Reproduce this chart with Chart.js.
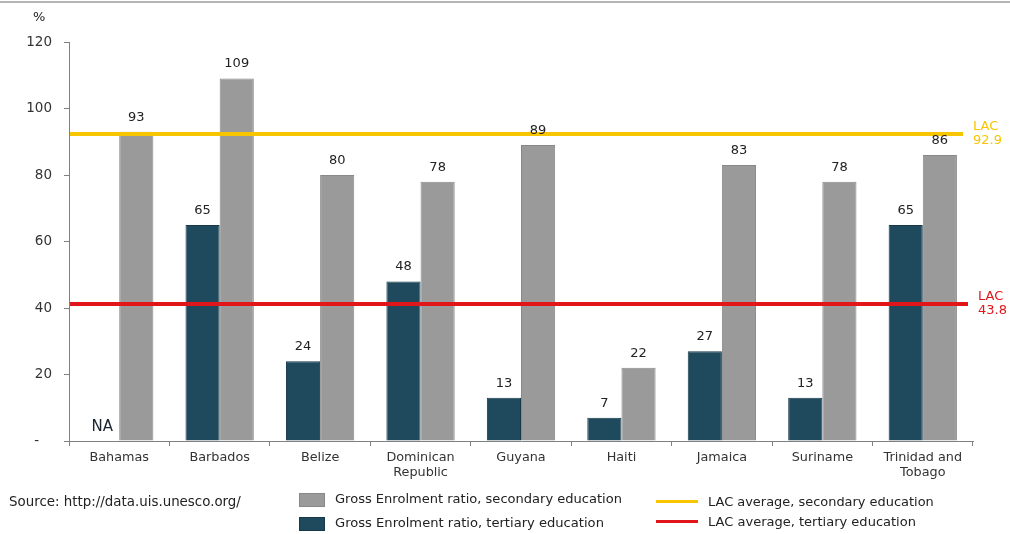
<!DOCTYPE html>
<html><head><meta charset="utf-8">
<script src="https://cdn.jsdelivr.net/npm/chart.js@4.4.1/dist/chart.umd.min.js"></script>
<style>
body{margin:0;background:#fff;font-family:"DejaVu Sans",Verdana,sans-serif;}
#wrap{position:relative;width:1010px;height:534px;overflow:hidden;background:#fff}
#c{position:absolute;left:0;top:0}
#topline{position:absolute;left:0;top:1px;width:1010px;height:2px;background:#b4b4b4}
.t{position:absolute;font-size:12px;color:#222;white-space:nowrap;line-height:14px}
.sw{position:absolute;width:26px;height:14px;box-sizing:border-box;border:1px solid #777}
.ln{position:absolute;width:42px;height:3px}
</style></head><body>
<div id="wrap">
<canvas id="c" width="1010" height="534"></canvas>
<div id="topline"></div>
<div class="t" style="left:33px;top:10px;font-size:13px">%</div>
<div class="t" id="source" style="left:9px;top:495px">Source: http://data.uis.unesco.org/</div>
</div>
<script>
// ---- data ----
const categories = ['Bahamas','Barbados','Belize',['Dominican','Republic'],'Guyana','Haiti','Jamaica','Suriname',['Trinidad and','Tobago']];
const secondaryValues = [93,109,80,78,89,22,83,78,86];
const tertiaryValues = [null,65,24,48,13,7,27,13,65];
const seriesNames = ['Gross Enrolment ratio, secondary education','Gross Enrolment ratio, tertiary education'];
const lacNames = ['LAC average, secondary education','LAC average, tertiary education'];
const lacLabels = ['92.9','43.8'];
const lacLevels = [92.3, 41.2]; // levels at which the lines are drawn in the picture
const yTicks = [0,20,40,60,80,100,120];

const F = '"DejaVu Sans", Verdana, sans-serif';
Chart.defaults.font.family = F;
const GRAY = '#9a9a9a', DARK = '#1f4a5e';
const LACCOL = ['#f7c600','#e0161b'];
const lacEnd = [10,5];

const overlay = {
  id:'overlay',
  afterDatasetsDraw(chart){
    const ctx = chart.ctx, ys = chart.scales.y, a = chart.chartArea;
    ctx.save();
    lacLevels.forEach((v,i)=>{
      const y = ys.getPixelForValue(v);
      const xe = a.right - lacEnd[i];
      ctx.strokeStyle = LACCOL[i]; ctx.lineWidth = 4;
      ctx.beginPath(); ctx.moveTo(a.left+1,y); ctx.lineTo(xe,y); ctx.stroke();
      ctx.fillStyle = LACCOL[i]; ctx.font = '13px '+F; ctx.textAlign='left'; ctx.textBaseline='middle';
      ctx.fillText('LAC', xe+10, y-7);
      ctx.fillText(lacLabels[i], xe+10, y+7);
    });
    chart.data.datasets.forEach((ds,di)=>{
      chart.getDatasetMeta(di).data.forEach((bar,i)=>{
        const v = ds.data[i];
        ctx.textAlign='center';
        if(v==null){
          ctx.fillStyle='#1a2530'; ctx.font='15px '+F; ctx.textBaseline='middle';
          ctx.fillText('NA', bar.x, ys.getPixelForValue(0)-14);
        } else {
          ctx.fillStyle='#222'; ctx.font='13px '+F; ctx.textBaseline='bottom';
          ctx.fillText(String(v), bar.x, bar.y-8);
        }
      });
    });
    ctx.restore();
  }
};

new Chart(document.getElementById('c'),{
  type:'bar',
  data:{
    labels:categories,
    datasets:[
      {label:seriesNames[1],data:tertiaryValues,backgroundColor:DARK,borderColor:'#163848',borderWidth:1,categoryPercentage:0.68,barPercentage:1},
      {label:seriesNames[0],data:secondaryValues,backgroundColor:GRAY,borderColor:'#888',borderWidth:1,categoryPercentage:0.68,barPercentage:1}
    ]
  },
  options:{
    responsive:false,animation:false,
    layout:{padding:{top:42,right:37,bottom:0,left:0}},
    plugins:{legend:{display:false},tooltip:{enabled:false}},
    scales:{
      x:{offset:true,
        grid:{offset:true,drawOnChartArea:false,tickLength:5,color:'#808080'},
        border:{color:'#808080',width:1},
        ticks:{color:'#333',font:{size:12.8},padding:4,maxRotation:0,autoSkip:false},
        afterFit(s){s.height=93;}
      },
      y:{min:0,max:120,
        afterBuildTicks(s){s.ticks=yTicks.map(v=>({value:v}));},
        grid:{drawOnChartArea:false,tickLength:5,color:'#808080'},
        border:{color:'#808080',width:1},
        ticks:{color:'#333',font:{size:13.5},padding:12,callback:v=>v===0?'-   ':String(v)},
        afterFit(s){s.width=69;}
      }
    }
  },
  plugins:[overlay]
});

// fit a text element to the width it has in the picture
function fit(el, target){
  el.style.fontSize='12px';
  const w = el.getBoundingClientRect().width;
  el.style.fontSize = (12*target/w).toFixed(2)+'px';
}

// legend built from the arrays
const wrap=document.getElementById('wrap');
const swCol=[GRAY,DARK];
const seriesW=[287,269], lacW=[226,208];
const seriesY=[499,523], lacY=[502,522];
seriesNames.forEach((n,i)=>{
  const s=document.createElement('div');s.className='sw';
  s.style.left='299px';s.style.top=(493+i*24)+'px';s.style.background=swCol[i];
  s.style.borderColor=i?'#163848':'#888';wrap.appendChild(s);
  const t=document.createElement('div');t.className='t';t.textContent=n;
  t.style.left='335px';t.style.top=(seriesY[i]-7)+'px';wrap.appendChild(t);
  fit(t,seriesW[i]);
});
lacNames.forEach((n,i)=>{
  const l=document.createElement('div');l.className='ln';
  l.style.left='656px';l.style.top=(lacY[i]-2)+'px';l.style.background=LACCOL[i];wrap.appendChild(l);
  const t=document.createElement('div');t.className='t';t.textContent=n;
  t.style.left='708px';t.style.top=(lacY[i]-7)+'px';wrap.appendChild(t);
  fit(t,lacW[i]);
});
fit(document.getElementById('source'),232);
</script>
</body></html>
